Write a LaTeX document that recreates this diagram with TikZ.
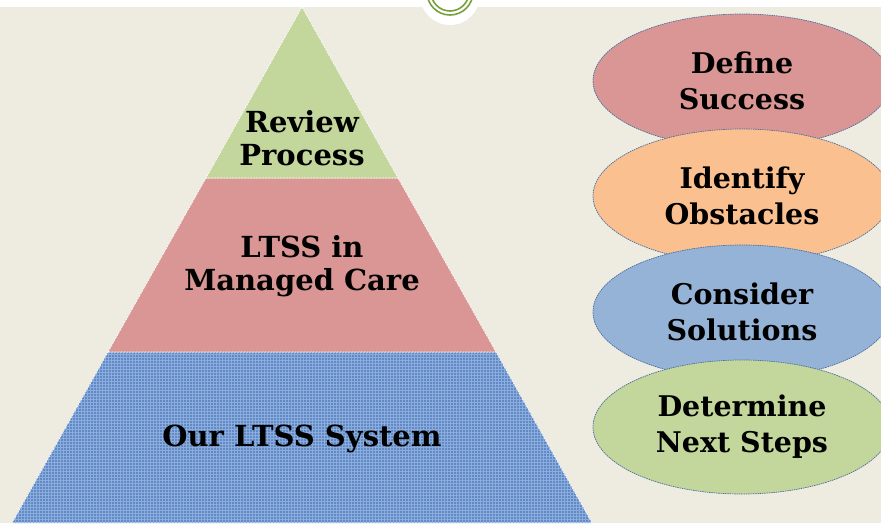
\documentclass[tikz,border=0pt]{standalone}
\usepackage{fontspec}
\newfontfamily\heavyserif{DejaVu Serif}
\usetikzlibrary{shapes.geometric}
\definecolor{bgtan}{HTML}{EEECE1}
\definecolor{tiergreen}{HTML}{C3D69B}
\definecolor{tierpink}{HTML}{D99694}
\definecolor{tierblue}{HTML}{5F8AC7}
\definecolor{meshblue}{HTML}{8CADDB}
\definecolor{ovalorange}{HTML}{FAC090}
\definecolor{ovalblue}{HTML}{95B3D7}
\definecolor{ovalline}{HTML}{4A6E9E}
\definecolor{ringgreen}{HTML}{77A03C}
\tikzset{
    tier/.style={draw=white, dash pattern=on 2pt off 1pt, line width=0.6pt},
    tiertext/.style={font=\heavyserif\bfseries\fontsize{29}{33}\selectfont, align=center, inner sep=0pt},
    oval/.style={ellipse, draw=ovalline, dash pattern=on 1.5pt off 0.8pt, line width=0.7pt,
        minimum width=298pt, minimum height=134pt, inner sep=0pt, align=center,
        font=\heavyserif\bfseries\fontsize{28.5}{36}\selectfont},
    meshline/.style={draw=meshblue, line width=0.7pt}
}
\begin{document}
\begin{tikzpicture}[x=1pt,y=-1pt]
            \useasboundingbox (0,0) rectangle (881,523);
            \fill[bgtan] (0,0) rectangle (881,523);
            \fill[white] (0,0) rectangle (881,7);
            \fill[white] (450,-5) circle (30);
            \draw[ringgreen, line width=1.6pt] (450,-8) circle (23) (450,-8) circle (19);

            \coordinate (apex) at (302,7);
            \coordinate (gl) at (206,178);
            \coordinate (gr) at (398,178);
            \coordinate (pl) at (108,352);
            \coordinate (pr) at (496,352);
            \coordinate (bl) at (12,523);
            \coordinate (br) at (592,523);
            \fill[tierblue] (pl)--(pr)--(br)--(bl)--cycle;
            \begin{scope}
                \clip (pl)--(pr)--(br)--(bl)--cycle;
                \draw[meshline] (0,352) grid[step=3pt] (600,523);
            \end{scope}
            \draw[tier] (pl)--(pr)--(br)--(bl)--cycle;
            \draw[tier, fill=tierpink] (gl)--(gr)--(pr)--(pl)--cycle;
            \draw[tier, fill=tiergreen] (apex)--(gr)--(gl)--cycle;

            \node[tiertext] (review) at (302,138) {Review\\Process};
            \node[tiertext] (managed) at (302,266) {LTSS in\\Managed Care};
            \node[tiertext] (system) at (302,439) {Our LTSS System};

            \node[oval, fill=tierpink] (define) at (742,81) {Define\\Success};
            \node[oval, fill=ovalorange] (obstacles) at (742,196) {Identify\\Obstacles};
            \node[oval, fill=ovalblue] (solutions) at (742,312) {Consider\\Solutions};
            \node[oval, fill=tiergreen] (nextsteps) at (742,427) {Determine\\Next Steps};
        \end{tikzpicture}
\end{document}
